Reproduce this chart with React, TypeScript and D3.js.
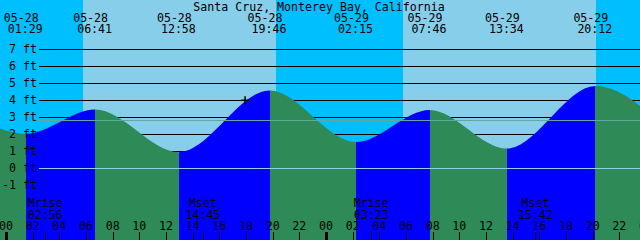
import React from "react";
import * as d3 from "d3";

// ---------- data ----------
const YEAR = 2024;
const title = "Santa Cruz, Monterey Bay, California";
const viewStart = "05-27 23:33";
const viewEnd = "05-29 23:33";

// high / low tide events (first and last lie just outside the visible window)
const tideTimes = [
  "05-27 19:00",
  "05-28 01:29",
  "05-28 06:41",
  "05-28 12:58",
  "05-28 19:46",
  "05-29 02:15",
  "05-29 07:46",
  "05-29 13:34",
  "05-29 20:12",
  "05-30 02:55",
];
const tideHeights = [4.6, 2.03, 3.46, 0.95, 4.57, 1.54, 3.43, 1.16, 4.84, 1.05];

const sunriseTimes = ["05-28 05:47", "05-29 05:47"];
const sunsetTimes = ["05-28 20:15", "05-29 20:15"];

const moonTimes = ["05-28 02:56", "05-28 14:45", "05-29 03:23", "05-29 15:42"];
const moonEvents = ["Mrise", "Mset", "Mrise", "Mset"];

const heightTicks = [-1, 0, 1, 2, 3, 4, 5, 6, 7];
const gridLevels = [1, 2, 3, 4, 5, 6, 7];
const mslLevel = 2.82;
const datumLevel = 0;
const markTimes = ["05-28 17:56"];
const markHeights = [4.0];

// ---------- style ----------
const W = 640;
const H = 240;
const NIGHT = "#00bfff";
const DAY = "#87ceeb";
const FLOOD = "#0000ff";
const EBB = "#2e8b57";
const MSL_COLOR = "#5fa8a0";
const DATUM_COLOR = "#8fd3e8";
const FONT = "'DejaVu Sans Mono', monospace";
const FS = 11.6;

function parse(s: string): Date {
  const [md, hm] = s.split(" ");
  const [mo, d] = md.split("-").map(Number);
  const [h, m] = hm.split(":").map(Number);
  return new Date(YEAR, mo - 1, d, h, m);
}

export default function App() {
  const x = d3.scaleTime().domain([parse(viewStart), parse(viewEnd)]).range([0, W]);
  const y = d3.scaleLinear().domain([0, 7]).range([168.3, 49.3]);

  const pts = tideTimes.map((t, i) => ({ t: parse(t), h: tideHeights[i] }));
  const area = d3
    .area<{ t: Date; h: number }>()
    .x((d) => x(d.t))
    .y0(H)
    .y1((d) => y(d.h))
    .curve(d3.curveMonotoneX);

  // flood / ebb gradient stops
  const stops: { off: number; color: string }[] = [];
  for (let i = 0; i < pts.length - 1; i++) {
    const c = pts[i + 1].h > pts[i].h ? FLOOD : EBB;
    const a = Math.max(0, Math.min(1, x(pts[i].t) / W));
    const b = Math.max(0, Math.min(1, x(pts[i + 1].t) / W));
    stops.push({ off: a, color: c });
    stops.push({ off: b, color: c });
  }

  const hourTicks = d3.timeHour
    .every(2)!
    .range(x.domain()[0], d3.timeHour.offset(x.domain()[1], 2));
  const fmtH = d3.timeFormat("%H");

  return (
    <svg
      width={W}
      height={H}
      style={{ position: "absolute", left: 0, top: 0, display: "block" }}
      fontFamily={FONT}
      fontSize={FS}
    >
      <defs>
        <linearGradient id="fe" gradientUnits="userSpaceOnUse" x1={0} x2={W} y1={0} y2={0}>
          {stops.map((s, i) => (
            <stop key={i} offset={s.off} stopColor={s.color} />
          ))}
        </linearGradient>
      </defs>

      {/* sky */}
      <rect x={0} y={0} width={W} height={H} fill={NIGHT} />
      {sunriseTimes.map((s, i) => {
        const a = x(parse(s));
        const b = x(parse(sunsetTimes[i]));
        return <rect key={i} x={a} y={0} width={b - a} height={H} fill={DAY} shapeRendering="crispEdges" />;
      })}

      {/* grid lines */}
      {gridLevels.map((v) => (
        <line key={v} x1={39} x2={W} y1={Math.round(y(v)) + 0.5} y2={Math.round(y(v)) + 0.5} stroke="#000" strokeWidth={1} shapeRendering="crispEdges" />
      ))}

      {/* water */}
      <path d={area(pts) || ""} fill="url(#fe)" />

      {/* msl & datum */}
      <line x1={39} x2={W} y1={Math.round(y(mslLevel)) + 0.5} y2={Math.round(y(mslLevel)) + 0.5} stroke={MSL_COLOR} strokeWidth={1} shapeRendering="crispEdges" />
      <line x1={39} x2={W} y1={Math.round(y(datumLevel)) + 0.5} y2={Math.round(y(datumLevel)) + 0.5} stroke={DATUM_COLOR} strokeWidth={1} shapeRendering="crispEdges" />

      {/* mark */}
      {markTimes.map((t, i) => {
        const mx = x(parse(t));
        const my = y(markHeights[i]);
        return (
          <g key={i} stroke="#000" strokeWidth={1.5}>
            <line x1={mx - 4} x2={mx + 4} y1={my} y2={my} />
            <line x1={mx} x2={mx} y1={my - 4} y2={my + 4} />
          </g>
        );
      })}

      {/* y labels */}
      {heightTicks.map((v) => (
        <text key={v} x={37} y={y(v) + 4} textAnchor="end" fill="#000">
          {`${v} ft`}
        </text>
      ))}

      {/* title */}
      <text x={319} y={10.5} textAnchor="middle" fill="#000">
        {title}
      </text>

      {/* tide event labels */}
      {tideTimes.map((t, i) => {
        const d = parse(t);
        const px = x(d);
        if (px < 0 || px > W) return null;
        const [md, hm] = t.split(" ");
        return (
          <g key={t} fill="#000">
            <text x={px - 4.5} y={21.5} textAnchor="middle">{md}</text>
            <text x={px - 0.5} y={33} textAnchor="middle">{hm}</text>
          </g>
        );
      })}

      {/* moon events */}
      {moonTimes.map((t, i) => {
        const px = x(parse(t));
        const hm = t.split(" ")[1];
        return (
          <g key={t}>
            <text x={px} y={206.5} textAnchor="middle" fill="#000">{moonEvents[i]}</text>
            <text x={px} y={218.5} textAnchor="middle" fill="#000">{hm}</text>
            <line x1={Math.round(px) + 0.5} x2={Math.round(px) + 0.5} y1={232} y2={H} stroke="#000" shapeRendering="crispEdges" />
          </g>
        );
      })}

      {/* hour axis */}
      {hourTicks.map((t) => {
        const px = x(t);
        const midnight = t.getHours() === 0;
        return (
          <g key={+t}>
            <text x={px} y={229.5} textAnchor="middle" fill="#000">{fmtH(t)}</text>
            {midnight ? (
              <rect x={Math.round(px) - 1.5} y={232} width={3} height={H - 232} fill="#000" shapeRendering="crispEdges" />
            ) : (
              <line x1={Math.round(px) + 0.5} x2={Math.round(px) + 0.5} y1={232} y2={H} stroke="#000" shapeRendering="crispEdges" />
            )}
          </g>
        );
      })}
    </svg>
  );
}
